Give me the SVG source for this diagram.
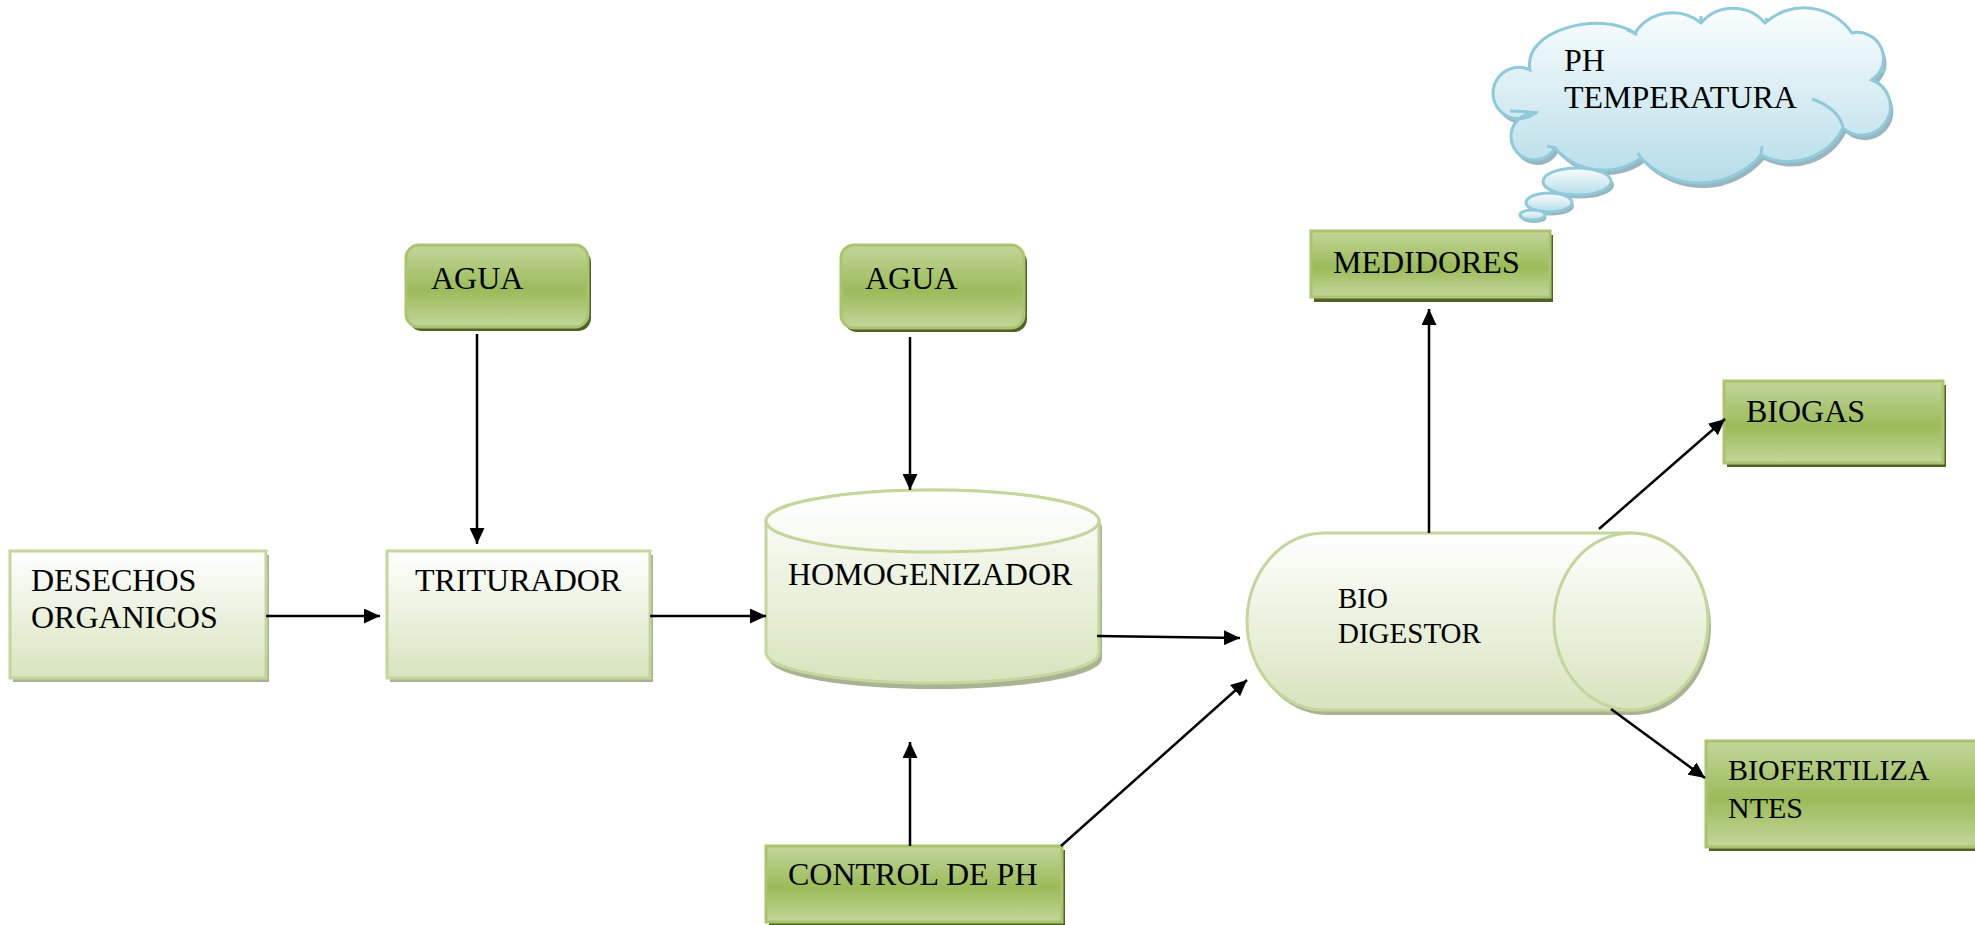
<svg xmlns="http://www.w3.org/2000/svg" width="1975" height="925" viewBox="0 0 1975 925">
<defs>
  <linearGradient id="gLight" x1="0" y1="0" x2="0" y2="1">
    <stop offset="0" stop-color="#ffffff"/>
    <stop offset="1" stop-color="#d7e4bd"/>
  </linearGradient>
  <linearGradient id="gTop" x1="0" y1="0" x2="0" y2="1">
    <stop offset="0" stop-color="#ffffff"/>
    <stop offset="1" stop-color="#f5f8ee"/>
  </linearGradient>
  <linearGradient id="gDark" x1="0" y1="0" x2="0" y2="1">
    <stop offset="0" stop-color="#c3d69b"/>
    <stop offset="0.55" stop-color="#9bbb59"/>
    <stop offset="1" stop-color="#c3d69b"/>
  </linearGradient>
  <linearGradient id="gCloud" x1="0" y1="0" x2="0" y2="1">
    <stop offset="0" stop-color="#fafdfe"/>
    <stop offset="1" stop-color="#b6dde8"/>
  </linearGradient>
  <marker id="arr" markerUnits="userSpaceOnUse" markerWidth="16" markerHeight="15" refX="16" refY="7.5" orient="auto">
    <path d="M0,0 L16,7.5 L0,15 Z" fill="#000"/>
  </marker>
</defs>
<style>
  .lt { fill: url(#gLight); stroke: #c3d69b; stroke-width: 3; }
  .tp { fill: url(#gTop); stroke: #c3d69b; stroke-width: 3; }
  .dk { fill: url(#gDark); stroke: #a9c46c; stroke-width: 3; }
  .shl { fill: #a9b393; }
  .shd { fill: #4f6228; }
  .cl { fill: url(#gCloud); stroke: #8fcadb; stroke-width: 3; }
  .shc { fill: #9bb5be; }
  .inner { fill: none; stroke: #8fcadb; stroke-width: 3; }
  text { font-family: "Liberation Serif", "Times New Roman", serif; font-size: 32px; fill: #000; }
  .conn line { stroke: #000; stroke-width: 2.5; marker-end: url(#arr); }
</style>
<rect width="1975" height="925" fill="#ffffff"/>

<g id="desechos">
  <rect class="shl" x="13" y="555" width="256" height="127"/>
  <rect class="lt" x="10" y="551" width="256" height="127"/>
  <text x="31" y="591">DESECHOS</text>
  <text x="31" y="628">ORGANICOS</text>
</g>

<g id="triturador">
  <rect class="shl" x="390" y="555" width="263" height="127"/>
  <rect class="lt" x="387" y="551" width="263" height="127"/>
  <text x="415" y="591">TRITURADOR</text>
</g>

<g id="agua1">
  <rect class="shd" x="409" y="249" width="182" height="82" rx="13"/>
  <rect class="dk" x="406" y="245" width="182" height="82" rx="13"/>
  <text x="431" y="289">AGUA</text>
</g>

<g id="agua2">
  <rect class="shd" x="844" y="249" width="183" height="83" rx="13"/>
  <rect class="dk" x="841" y="245" width="183" height="83" rx="13"/>
  <text x="865" y="289">AGUA</text>
</g>

<g id="homogenizador">
  <path class="shl" transform="translate(3,6)" d="M766,521 V653 A166.5,30 0 0 0 1099,653 V521 A166.5,31 0 0 0 766,521 Z"/>
  <path class="lt" d="M766,521 V653 A166.5,30 0 0 0 1099,653 V521 A166.5,31 0 0 0 766,521 Z"/>
  <ellipse class="tp" cx="932.5" cy="521" rx="166.5" ry="31"/>
  <text x="788" y="585">HOMOGENIZADOR</text>
</g>

<g id="control">
  <rect class="shd" x="769" y="850" width="296" height="76"/>
  <rect class="dk" x="766" y="846" width="296" height="76"/>
  <text x="788" y="885">CONTROL DE PH</text>
</g>

<g id="biodigestor">
  <path class="shl" transform="translate(3,5)" d="M1324,533 H1631 A77,88.5 0 0 1 1631,710 H1324 A77,88.5 0 0 1 1324,533 Z"/>
  <path class="lt" d="M1324,533 H1631 A77,88.5 0 0 1 1631,710 H1324 A77,88.5 0 0 1 1324,533 Z"/>
  <ellipse class="lt" cx="1631" cy="621.5" rx="77" ry="88.5"/>
  <text x="1338" y="608" style="font-size:29px">BIO</text>
  <text x="1338" y="643" style="font-size:29px">DIGESTOR</text>
</g>

<g id="medidores">
  <rect class="shd" x="1314" y="235" width="239" height="67"/>
  <rect class="dk" x="1311" y="231" width="239" height="66"/>
  <text x="1333" y="273">MEDIDORES</text>
</g>

<g id="biogas">
  <rect class="shd" x="1727" y="385" width="219" height="82"/>
  <rect class="dk" x="1724" y="381" width="219" height="82"/>
  <text x="1746" y="422">BIOGAS</text>
</g>

<g id="biofertilizantes">
  <rect class="shd" x="1709" y="745" width="280" height="106"/>
  <rect class="dk" x="1706" y="741" width="280" height="106"/>
  <text x="1728" y="780" style="font-size:30px">BIOFERTILIZA</text>
  <text x="1728" y="818" style="font-size:30px">NTES</text>
</g>

<g id="nube">
  <path class="shc" transform="translate(3,5)" d="M1530,70 C1522,30 1600,10 1635,33 A45,45 0 0 1 1701,23 A42,42 0 0 1 1765,23 A58,58 0 0 1 1852,33 A26,26 0 0 1 1872,80 A28.5,28.5 0 1 1 1843,128 A61,61 0 0 1 1761,155 A81,81 0 0 1 1641,158 A64,64 0 0 1 1555,148 A23.5,23.5 0 1 1 1535,113 A25.7,25.7 0 1 1 1530,70 Z"/>
  <ellipse class="shc" cx="1580" cy="185" rx="34" ry="13.5"/>
  <ellipse class="shc" cx="1551" cy="206" rx="23" ry="9.5"/>
  <ellipse class="shc" cx="1534" cy="218" rx="12.5" ry="5"/>
  <path class="cl" d="M1530,70 C1522,30 1600,10 1635,33 A45,45 0 0 1 1701,23 A42,42 0 0 1 1765,23 A58,58 0 0 1 1852,33 A26,26 0 0 1 1872,80 A28.5,28.5 0 1 1 1843,128 A61,61 0 0 1 1761,155 A81,81 0 0 1 1641,158 A64,64 0 0 1 1555,148 A23.5,23.5 0 1 1 1535,113 A25.7,25.7 0 1 1 1530,70 Z"/>
  <path class="inner" d="M1812,99 Q1838,108 1843,127 M1872,80 Q1880,72 1886,68 M1510,111 Q1525,111 1537,113 M1627,30 Q1632,31 1637,35 M1701,23 L1701,16 M1765,23 L1767,18 M1761,155 L1762,146 M1641,158 L1638,153 M1547,146 Q1552,147 1557,149"/>
  <ellipse class="cl" cx="1577" cy="181.5" rx="34" ry="13.5"/>
  <ellipse class="cl" cx="1549" cy="202.5" rx="23" ry="9.5"/>
  <ellipse class="cl" cx="1532.5" cy="215" rx="12.5" ry="5"/>
  <text x="1564" y="71">PH</text>
  <text x="1564" y="108">TEMPERATURA</text>
</g>

<g id="connectors" class="conn">
  <line x1="477" y1="334" x2="477" y2="544"/>
  <line x1="910" y1="337" x2="910" y2="490"/>
  <line x1="266" y1="616" x2="380" y2="616"/>
  <line x1="650" y1="616" x2="766" y2="616"/>
  <line x1="1097" y1="636" x2="1240" y2="638"/>
  <line x1="910" y1="846" x2="910" y2="742"/>
  <line x1="1061" y1="846" x2="1247" y2="680"/>
  <line x1="1429" y1="533" x2="1429" y2="309"/>
  <line x1="1599" y1="529" x2="1725" y2="419"/>
  <line x1="1611" y1="709" x2="1705" y2="778"/>
</g>
</svg>
